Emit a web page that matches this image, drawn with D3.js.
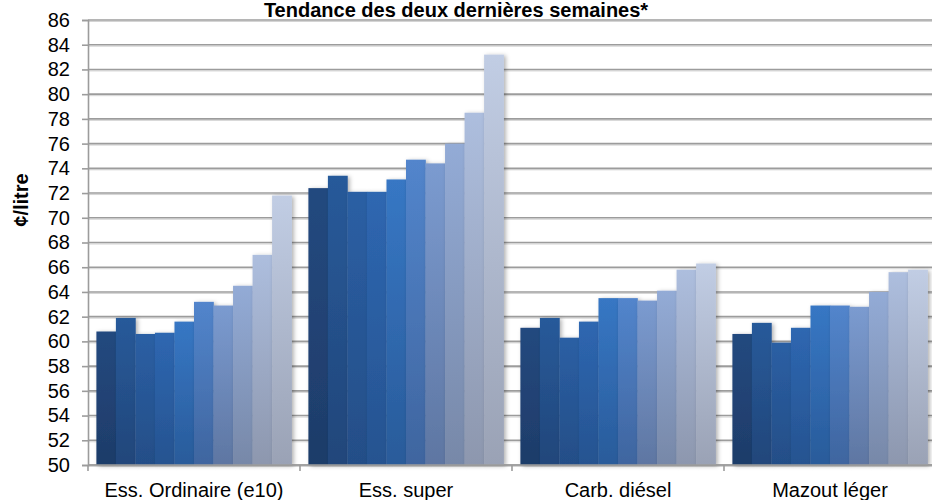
<!DOCTYPE html>
<html>
<head>
<meta charset="utf-8">
<script src="https://cdn.jsdelivr.net/npm/d3@7"></script>
<style>
body { margin: 0; background: #fff; }
text { font-family: "Liberation Sans", Arial, sans-serif; fill: #000; }
</style>
</head>
<body>
<div id="chart"></div>
<script>
// DATA
var categories = ['Ess. Ordinaire (e10)', 'Ess. super', 'Carb. diésel', 'Mazout léger'];
var ordinaire = [60.8, 61.9, 60.6, 60.7, 61.6, 63.2, 62.9, 64.5, 67.0, 71.8];
var superEss  = [72.4, 73.4, 72.1, 72.1, 73.1, 74.7, 74.4, 76.0, 78.5, 83.2];
var diesel    = [61.1, 61.9, 60.3, 61.6, 63.5, 63.5, 63.3, 64.1, 65.8, 66.3];
var mazout    = [60.6, 61.5, 59.9, 61.1, 62.9, 62.9, 62.8, 64.0, 65.6, 65.8];
var yTicks = d3.range(50, 87, 2);

var series = [ordinaire, superEss, diesel, mazout];

// colours of the 10 bars, top and bottom of gradient
var topColors = ['#24497f', '#285a9a', '#2b5fa4', '#2e67b1', '#3777c4', '#5285cc', '#7b9bd0', '#93abd6', '#adbede', '#c1cde4'];
var botColors = ['#1e3c69', '#21467a', '#244e87', '#265390', '#295b9a', '#3f659f', '#5e76a2', '#7788a8', '#8d97ae', '#9aa2b5'];

var width = 932, height = 500;
var svg = d3.select('#chart').append('svg')
	.attr('width', width)
	.attr('height', height);

var defs = svg.append('defs');

topColors.forEach(function(c, i){
	var g = defs.append('linearGradient')
		.attr('id', 'grad' + i)
		.attr('x1', 0).attr('y1', 0).attr('x2', 0).attr('y2', 1);
	g.append('stop').attr('offset', '0%').attr('stop-color', c);
	g.append('stop').attr('offset', '100%').attr('stop-color', botColors[i]);
});

var shadow = defs.append('filter')
	.attr('id', 'shadow')
	.attr('x', '-20%').attr('y', '-5%').attr('width', '160%').attr('height', '115%');
shadow.append('feDropShadow')
	.attr('dx', 2).attr('dy', 1)
	.attr('stdDeviation', 2)
	.attr('flood-color', '#000')
	.attr('flood-opacity', 0.3);

// SCALES
var plotLeft = 88, plotRight = 936, plotTop = 20, plotBottom = 465;

var x0 = d3.scaleBand()
	.domain(categories)
	.range([plotLeft, plotRight])
	.padding(0);

var x1 = d3.scaleBand()
	.domain(d3.range(10))
	.range([0, x0.bandwidth()])
	.paddingInner(0)
	.paddingOuter(0.43);

var y = d3.scaleLinear()
	.domain([50, 86])
	.range([plotBottom, plotTop]);

// gridlines
var grid = svg.append('g');
grid.selectAll('line.shade')
	.data(yTicks)
	.enter()
	.append('line')
	.attr('class', 'shade')
	.attr('x1', plotLeft).attr('x2', width)
	.attr('y1', function(d){ return y(d) + 1.5; })
	.attr('y2', function(d){ return y(d) + 1.5; })
	.attr('stroke', '#d4d4d4')
	.attr('stroke-width', 1);
grid.selectAll('line.main')
	.data(yTicks)
	.enter()
	.append('line')
	.attr('class', 'main')
	.attr('x1', plotLeft).attr('x2', width)
	.attr('y1', function(d){ return y(d); })
	.attr('y2', function(d){ return y(d); })
	.attr('stroke', '#9c9c9c')
	.attr('stroke-width', 1.6);

// y axis
var yAxis = svg.append('g')
	.attr('transform', 'translate(' + plotLeft + ',0)')
	.call(d3.axisLeft(y).tickValues(yTicks).tickSize(6).tickPadding(12));
yAxis.select('.domain').attr('stroke', '#9c9c9c').attr('stroke-width', 1.6);
yAxis.selectAll('.tick line').attr('stroke', '#9c9c9c').attr('stroke-width', 1.6);
yAxis.selectAll('.tick text')
	.attr('font-size', 20)
	.attr('font-family', '"Liberation Sans", Arial, sans-serif')
	.attr('fill', '#000');

// bars
var groups = svg.append('g')
	.selectAll('g')
	.data(series)
	.enter()
	.append('g')
	.attr('transform', function(d, i){ return 'translate(' + x0(categories[i]) + ',0)'; });

groups.selectAll('rect')
	.data(function(d){ return d; })
	.enter()
	.append('rect')
	.attr('x', function(d, i){ return x1(i); })
	.attr('width', x1.bandwidth() + 0.3)
	.attr('y', function(d){ return y(d); })
	.attr('height', function(d){ return y(50) - y(d); })
	.attr('fill', function(d, i){ return 'url(#grad' + i + ')'; })
	.attr('filter', 'url(#shadow)');

// x axis
var xAxis = svg.append('g')
	.attr('transform', 'translate(0,' + plotBottom + ')');
xAxis.append('line')
	.attr('x1', plotLeft).attr('x2', width)
	.attr('y1', 0).attr('y2', 0)
	.attr('stroke', '#9c9c9c')
	.attr('stroke-width', 1.6);
xAxis.selectAll('line.tk')
	.data(categories)
	.enter()
	.append('line')
	.attr('class', 'tk')
	.attr('x1', function(d){ return x0(d); })
	.attr('x2', function(d){ return x0(d); })
	.attr('y1', 0).attr('y2', 6)
	.attr('stroke', '#9c9c9c')
	.attr('stroke-width', 1.6);
xAxis.selectAll('text')
	.data(categories)
	.enter()
	.append('text')
	.attr('x', function(d){ return x0(d) + x0.bandwidth() / 2; })
	.attr('y', 32)
	.attr('text-anchor', 'middle')
	.attr('font-size', 20)
	.text(function(d){ return d; });

// title
svg.append('text')
	.attr('x', 456)
	.attr('y', 17)
	.attr('text-anchor', 'middle')
	.attr('font-size', 20)
	.attr('font-weight', 'bold')
	.text('Tendance des deux dernières semaines*');

// y label
svg.append('text')
	.attr('transform', 'translate(28,200) rotate(-90)')
	.attr('text-anchor', 'middle')
	.attr('font-size', 20)
	.attr('font-weight', 'bold')
	.text('¢/litre');
</script>
</body>
</html>
